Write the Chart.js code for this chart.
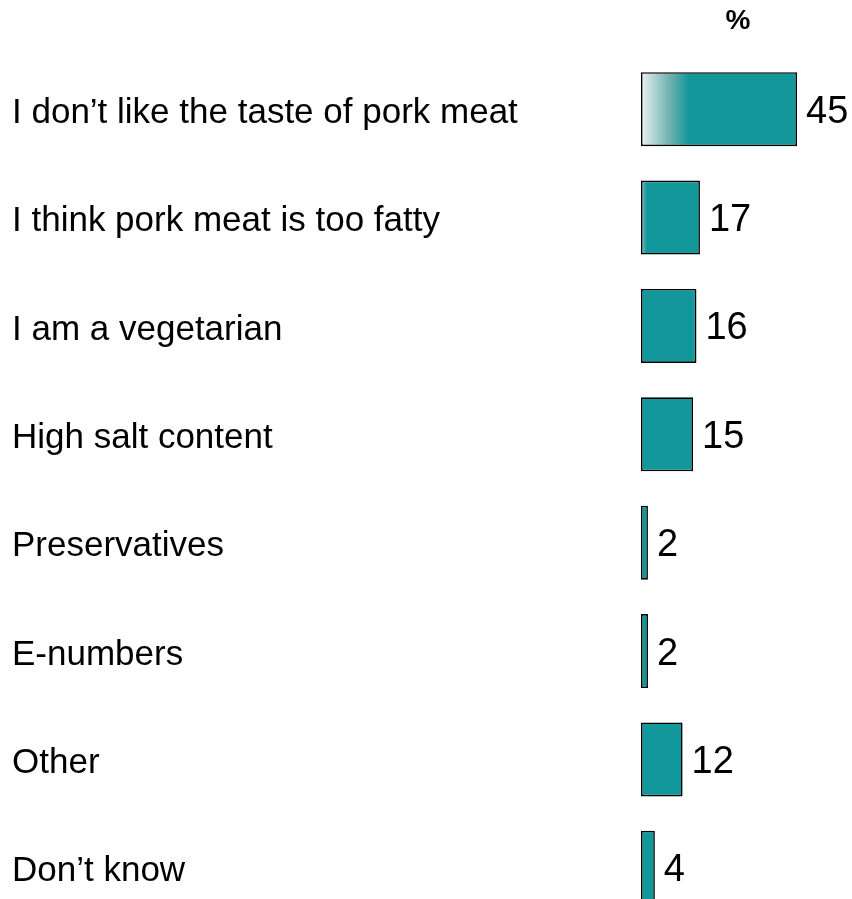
<!DOCTYPE html>
<html>
<head>
<meta charset="utf-8">
<title>Reasons for not eating pork</title>
<script src="https://cdn.jsdelivr.net/npm/chart.js@4.4.0/dist/chart.umd.min.js"></script>
<style>
    html, body {
        margin: 0;
        padding: 0;
        background: #ffffff;
        overflow: hidden;
    }
    #reasonsChart {
        display: block;
    }
</style>
</head>
<body>
<canvas id="reasonsChart" width="852" height="943"></canvas>
<script>
const categories = [
    'I don\u2019t like the taste of pork meat',
    'I think pork meat is too fatty',
    'I am a vegetarian',
    'High salt content',
    'Preservatives',
    'E-numbers',
    'Other',
    'Don\u2019t know'
];
const percentages = [45, 17, 16, 15, 2, 2, 12, 4];

const TEAL = '#12979a';

// bar fill: the first bar fades in from white, the second has a soft left edge
const barFill = (ctx) => {
    const chart = ctx.chart;
    if (!chart.chartArea || !chart.scales.x) return TEAL;
    const x0 = chart.scales.x.getPixelForValue(0);
    if (ctx.dataIndex === 0) {
        const g = chart.ctx.createLinearGradient(x0, 0, x0 + 48, 0);
        g.addColorStop(0, '#e8f1f1');
        g.addColorStop(0.6, '#6fb0b0');
        g.addColorStop(1, TEAL);
        return g;
    }
    if (ctx.dataIndex === 1) {
        const g = chart.ctx.createLinearGradient(x0, 0, x0 + 6, 0);
        g.addColorStop(0, '#7dbcbc');
        g.addColorStop(1, TEAL);
        return g;
    }
    return TEAL;
};

// numbers at the end of each bar, plus the % heading
const valueLabels = {
    id: 'valueLabels',
    afterDatasetsDraw(chart) {
        const { ctx } = chart;
        const meta = chart.getDatasetMeta(0);
        ctx.save();
        ctx.fillStyle = '#000000';
        ctx.font = '38px Arial, "Liberation Sans", sans-serif';
        ctx.textAlign = 'left';
        ctx.textBaseline = 'middle';
        meta.data.forEach((bar, i) => {
            ctx.fillText(String(percentages[i]), bar.x + 9, bar.y + 3);
        });
        ctx.font = 'bold 28px Arial, "Liberation Sans", sans-serif';
        ctx.textAlign = 'center';
        ctx.fillText('%', 738, 21);
        ctx.restore();
    }
};

new Chart(document.getElementById('reasonsChart'), {
    type: 'bar',
    data: {
        labels: categories,
        datasets: [{
            data: percentages,
            backgroundColor: barFill,
            borderColor: '#000000',
            borderWidth: 1.6,
            borderSkipped: false,
            categoryPercentage: 1,
            barPercentage: 0.683
        }]
    },
    options: {
        indexAxis: 'y',
        responsive: false,
        animation: false,
        layout: {
            padding: { left: 12, right: 3, top: 55, bottom: 4 }
        },
        plugins: {
            legend: { display: false },
            tooltip: { enabled: false }
        },
        scales: {
            x: {
                display: false,
                min: 0,
                max: 60
            },
            y: {
                grid: { display: false },
                border: { display: false },
                ticks: {
                    color: '#000000',
                    crossAlign: 'far',
                    autoSkip: false,
                    padding: 0,
                    labelOffset: 4,
                    font: { family: 'Arial, "Liberation Sans", sans-serif', size: 35 }
                },
                afterFit(scale) {
                    scale.width = 629;
                }
            }
        }
    },
    plugins: [valueLabels]
});
</script>
</body>
</html>
